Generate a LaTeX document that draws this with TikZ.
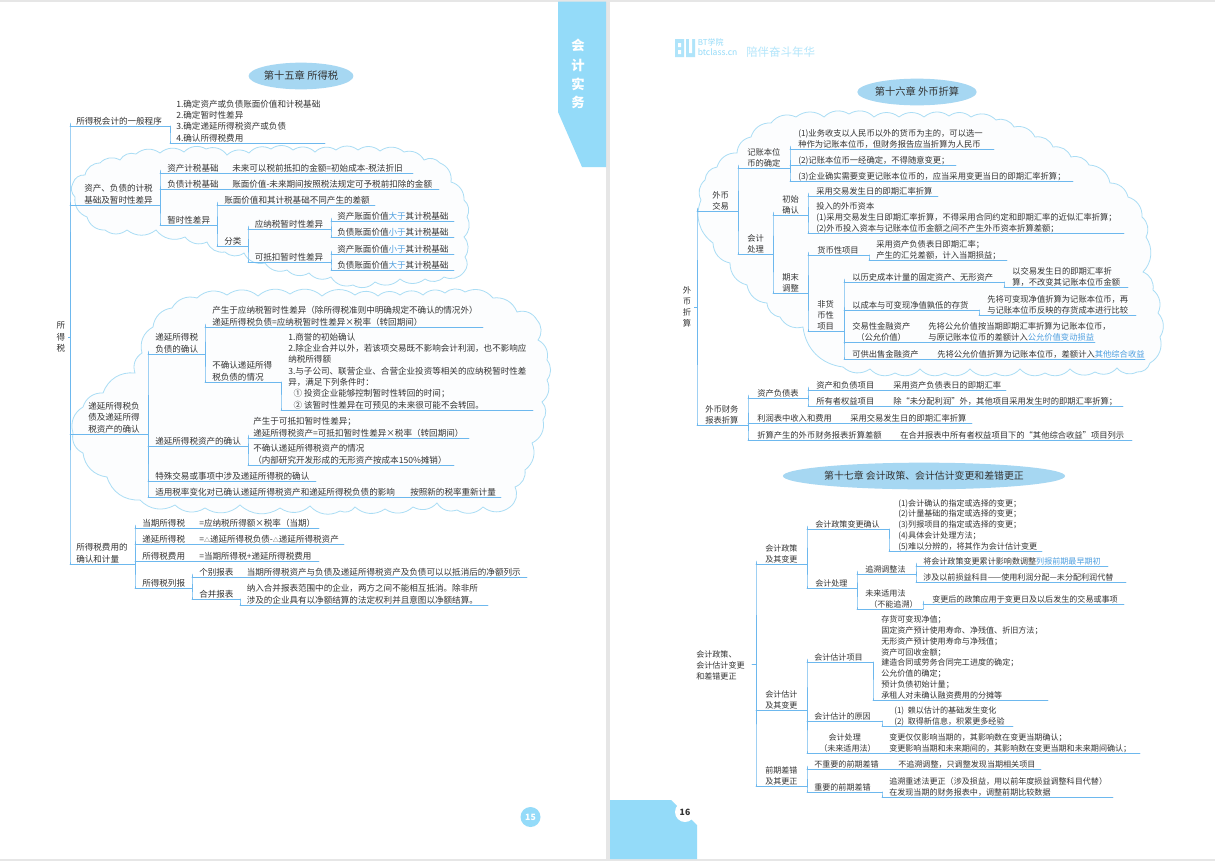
\documentclass[tikz,border=0pt]{standalone}
\usepackage{fontspec}
\setmainfont{Noto Sans CJK SC}
\definecolor{ink}{HTML}{333333}
\definecolor{branch}{HTML}{6DB8EE}
\definecolor{sky}{HTML}{94DBF9}
\definecolor{pill}{HTML}{A6D7F2}
\definecolor{puff}{HTML}{AADDF5}
\definecolor{puffbg}{HTML}{FCFDFE}
\definecolor{link}{HTML}{4E9FE0}
\definecolor{gutter}{HTML}{E6E6E6}
\newcommand{\bl}[1]{\textcolor{link}{#1}}
\newcommand{\delt}{{\fontsize{4.5}{4.5}\selectfont △}}
\tikzset{
  txt/.style={anchor=south west,inner sep=0pt,align=left,text=ink,text depth=1pt,font=\fontsize{6.42}{8.45}\selectfont},
  rule/.style={draw=branch,line width=0.65pt,line cap=round},
  wire/.style={draw=branch,line width=0.65pt,rounded corners=2.4pt,line cap=round},
  stub/.style={draw=branch,line width=0.65pt,shorten <=2pt},
  puffy/.style={draw=puff,fill=puffbg,line width=0.6pt,every to/.style={bend left=38}},
  pilltitle/.style={ellipse,fill=pill,inner sep=0pt,text=ink,font=\fontsize{7.7}{9}\selectfont},
  sidetxt/.style={inner sep=0pt,text=white,font=\fontsize{10}{12}\selectfont\bfseries},
  rootchar/.style={inner sep=0pt,align=center,text=ink,font=\fontsize{6.42}{8.45}\selectfont},
  logotxt/.style={inner sep=0pt,anchor=west,text=sky}
}
% name, line start x, line end x, line y, text x, text
\newcommand{\U}[6]{%
  \coordinate (#1-l) at (#2,#4);
  \coordinate (#1-r) at (#3,#4);
  \node[txt] (#1) at (#5,#4-0.4) {#6};
  \draw[rule] (#1-l) -- (#1-r);
}
\newcommand{\C}[2]{\draw[wire] (#1-r) -- (#1-r |- #2-l) -- (#2-l);}
\usetikzlibrary{shapes.geometric}
\begin{document}
\begin{tikzpicture}[x=0.75pt,y=-0.75pt]
\useasboundingbox (0,0) rectangle (1215,861);
\fill[gutter] (0,0) rectangle (1215,861);
\fill[white] (0,1.5) rectangle (606,859);
\fill[white] (610,1.5) rectangle (1215,859);
% sidebar
\fill[sky] (558,1.5) -- (606,1.5) -- (606,167) -- (582,167) -- (558,112) -- cycle;
\node[sidetxt] (s1) at (578,45) {会};
\node[sidetxt] (s2) at (578,65) {计};
\node[sidetxt] (s3) at (578,84) {实};
\node[sidetxt] (s4) at (578,102) {务};
% page numbers
\node[circle,fill=sky,minimum size=15pt,inner sep=0pt,text=white,font=\fontsize{6.5}{8}\selectfont\bfseries] (p15) at (530.5,817) {15};
\fill[sky] (610,800) -- (671,800) -- (697,825) -- (697,859) -- (610,859) -- cycle;
\node[circle,fill=white,minimum size=15pt,inner sep=0pt,text=ink,font=\fontsize{6.5}{8}\selectfont\bfseries] (p16) at (685,812) {16};
% logo
\fill[sky!75!white] (675,39) rectangle (684,57) (686,39) rectangle (695,57);
\fill[white] (678,43) rectangle (681,47) (678,50) rectangle (681,54) (689,39) rectangle (692,53);
\node[logotxt,font=\fontsize{6}{7}\selectfont] (lg1) at (697.5,42) {BT学院};
\node[logotxt,font=\fontsize{6.4}{7}\selectfont] (lg2) at (697.5,52) {btclass.cn};
\node[logotxt,font=\fontsize{8.6}{9}\selectfont,text=sky!70!white] (lg3) at (746,52) {陪伴奋斗年华};
% titles
\node[pilltitle,minimum width=73.5pt,minimum height=20pt] (t15) at (301,76) {第十五章 所得税};
\node[pilltitle,minimum width=79.5pt,minimum height=20pt] (t16) at (917,92) {第十六章 外币折算};
\node[pilltitle,minimum width=177pt,minimum height=20pt,font=\fontsize{7.4}{9}\selectfont] (t17) at (924,476) {第十七章 会计政策、会计估计变更和差错更正};
% clouds
\draw[puffy] (85,175) to (100,163) to (120,160) to (136,154) to (160,153) to (184,152) to (206,149) to (227,155) to (249,153) to (271,149) to (293,150) to (315,152) to (336,150) to (358,150) to (380,151) to (404,152) to (424,160) to (440,163) to (451,182) to (464,200) to (467,217) to (464,237) to (465,257) to (464,272) to (444,277) to (425,279) to (400,279) to (375,282) to (353,285) to (331,277) to (309,273) to (287,270) to (265,263) to (244,253) to (225,252) to (207,242) to (185,237) to (156,230) to (127,230) to (105,230) to (87,217) to (75,197) to (73,183) to cycle;
\draw[puffy] (73,433) to (83,407) to (103,393) to (135,373) to (142,353) to (153,327) to (172,308) to (197,298) to (227,295) to (258,296) to (290,294) to (322,296) to (355,295) to (378,296) to (400,295) to (423,295) to (445,293) to (465,292) to (493,298) to (517,312) to (537,320) to (538,340) to (547,360) to (547,380) to (542,402) to (543,420) to (532,443) to (525,470) to (515,487) to (510,507) to (483,507) to (457,510) to (437,503) to (413,507) to (385,509) to (355,507) to (340,511) to (310,506) to (280,508) to (240,505) to (205,508) to (175,505) to (140,500) to (107,477) to (83,453) to cycle;
\draw[puffy] (701,200) to (705,180) to (717,167) to (737,153) to (751,137) to (771,123) to (796,117) to (824,117) to (849,114) to (874,117) to (899,117) to (924,117) to (949,116) to (971,117) to (996,120) to (1014,127) to (1035,137) to (1053,147) to (1071,157) to (1089,165) to (1110,183) to (1128,197) to (1142,217) to (1146,237) to (1143,272) to (1153,290) to (1158,313) to (1160,337) to (1150,363) to (1137,372) to (1117,368) to (1095,372) to (1070,369) to (1045,373) to (1020,369) to (995,373) to (970,369) to (945,373) to (920,369) to (895,373) to (870,369) to (843,367) to (803,327) to (780,317) to (767,303) to (747,285) to (730,263) to (713,243) to cycle;
% ========== left page
\node[rootchar] (rootA) at (61,337) {所\\得\\税};
\coordinate (rootA-r) at (70,337);
\draw[stub] (rootA.east) -- (rootA-r);
\U{a}{70}{170}{126}{76}{所得税会计的一般程序}
\U{a1}{170}{325}{143}{176}{1.确定资产或负债账面价值和计税基础\\2.确定暂时性差异\\3.确定递延所得税资产或负债\\4.确认所得税费用}
\U{b}{70}{160}{205}{84}{资产、负债的计税\\基础及暂时性差异}
\U{b1}{160}{228}{173}{167}{资产计税基础}
\U{b1c}{228}{413}{173}{232}{未来可以税前抵扣的金额=初始成本-税法折旧}
\U{b2}{160}{228}{189}{167}{负债计税基础}
\U{b2c}{228}{439}{189}{232}{账面价值-未来期间按照税法规定可予税前扣除的金额}
\U{b3}{160}{217}{225}{167}{暂时性差异}
\U{b31}{217}{375}{205}{224}{账面价值和其计税基础不同产生的差额}
\U{b32}{217}{248}{246}{224}{分类}
\U{b321}{248}{331}{229}{254.5}{应纳税暂时性差异}
\U{b322}{248}{331}{262}{254.5}{可抵扣暂时性差异}
\U{b3211}{331}{454}{221}{337}{资产账面价值\bl{大于}其计税基础}
\U{b3212}{331}{454}{237}{337}{负债账面价值\bl{小于}其计税基础}
\U{b3221}{331}{454}{254}{337}{资产账面价值\bl{小于}其计税基础}
\U{b3222}{331}{454}{270}{337}{负债账面价值\bl{大于}其计税基础}
\U{c}{70}{148}{434}{88}{递延所得税负\\债及递延所得\\税资产的确认}
\U{c1}{148}{205}{354}{155}{递延所得税\\负债的确认}
\U{c11}{205}{483}{327}{212}{产生于应纳税暂时性差异（除所得税准则中明确规定不确认的情况外）\\递延所得税负债=应纳税暂时性差异×税率（转回期间）}
\U{c12}{205}{281}{382}{212}{不确认递延所得\\税负债的情况}
\U{c121}{281}{533}{410}{288}{1.商誉的初始确认\\2.除企业合并以外，若该项交易既不影响会计利润，也不影响应\\纳税所得额\\3.与子公司、联营企业、合营企业投资等相关的应纳税暂时性差\\异，满足下列条件时：\\\hspace*{4pt}① 投资企业能够控制暂时性转回的时间；\\\hspace*{4pt}② 该暂时性差异在可预见的未来很可能不会转回。}
\U{c2}{148}{248}{446}{155}{递延所得税资产的确认}
\U{c21}{248}{469}{438}{253}{产生于可抵扣暂时性差异；\\递延所得税资产=可抵扣暂时性差异×税率（转回期间）}
\U{c22}{248}{454}{465}{253}{不确认递延所得税资产的情况\\（内部研究开发形成的无形资产按成本150\%摊销）}
\U{c3}{148}{316}{481}{155}{特殊交易或事项中涉及递延所得税的确认}
\U{c4}{148}{403}{497}{155}{适用税率变化对已确认递延所得税资产和递延所得税负债的影响}
\U{c4c}{403}{501}{497}{410}{按照新的税率重新计量}
\U{d}{70}{135}{564}{76}{所得税费用的\\确认和计量}
\U{d1}{135}{195}{528}{142}{当期所得税}
\U{d1c}{195}{319}{528}{199}{=应纳税所得额×税率（当期）}
\U{d2}{135}{195}{544}{142}{递延所得税}
\U{d2c}{195}{344}{544}{199}{=\delt 递延所得税负债-\delt 递延所得税资产}
\U{d3}{135}{195}{561}{142}{所得税费用}
\U{d3c}{195}{319}{561}{199}{=当期所得税+递延所得税费用}
\U{d4}{135}{192}{588}{142}{所得税列报}
\U{d41}{192}{240}{577}{199}{个别报表}
\U{d41c}{240}{527}{577}{246.5}{当期所得税资产与负债及递延所得税资产及负债可以以抵消后的净额列示}
\U{d42}{192}{240}{599}{199}{合并报表}
\U{d42c}{240}{488}{605}{246.5}{纳入合并报表范围中的企业，两方之间不能相互抵消。除非所\\涉及的企业具有以净额结算的法定权利并且意图以净额结算。}
\C{rootA}{a}\C{rootA}{b}\C{rootA}{c}\C{rootA}{d}
\C{a}{a1}
\C{b}{b1}\C{b}{b2}\C{b}{b3}
\C{b3}{b31}\C{b3}{b32}
\C{b32}{b321}\C{b32}{b322}
\C{b321}{b3211}\C{b321}{b3212}
\C{b322}{b3221}\C{b322}{b3222}
\C{c}{c1}\C{c}{c2}\C{c}{c3}\C{c}{c4}
\C{c1}{c11}\C{c1}{c12}\C{c12}{c121}
\C{c2}{c21}\C{c2}{c22}
\C{d}{d1}\C{d}{d2}\C{d}{d3}\C{d}{d4}
\C{d4}{d41}\C{d4}{d42}\C{d42}{d42c}
% ========== right page: chapter 16
\tikzset{txt/.append style={font=\fontsize{6.22}{8.1}\selectfont},rootchar/.append style={font=\fontsize{6.22}{8.2}\selectfont}}
\node[rootchar] (rootB) at (687,307) {外\\币\\折\\算};
\coordinate (rootB-r) at (697,307);
\draw[stub] (rootB.east) -- (rootB-r);
\U{e}{697}{738}{211}{712}{外币\\交易}
\U{e1}{738}{790}{168}{747}{记账本位\\币的确定}
\U{e11}{790}{994}{149}{798}{(1)业务收支以人民币以外的货币为主的，可以选一\\种作为记账本位币，但财务报告应当折算为人民币}
\U{e12}{790}{956}{165}{798}{(2)记账本位币一经确定，不得随意变更；}
\U{e13}{790}{1073}{181}{798}{(3)企业确实需要变更记账本位币的，应当采用变更当日的即期汇率折算；}
\U{e2}{738}{773}{254}{747}{会计\\处理}
\U{e21}{773}{808}{215}{782}{初始\\确认}
\U{e211}{808}{938}{196}{816}{采用交易发生日的即期汇率折算}
\U{e212}{808}{1124}{233}{816}{投入的外币资本\\(1)采用交易发生日即期汇率折算，不得采用合同约定和即期汇率的近似汇率折算；\\(2)外币投入资本与记账本位币金额之间不产生外币资本折算差额；}
\U{e22}{773}{808}{293}{782}{期末\\调整}
\U{e221}{808}{869}{255}{817}{货币性项目}
\U{e221c}{869}{1007}{260}{876}{采用资产负债表日即期汇率；\\产生的汇兑差额，计入当期损益；}
\U{e222}{808}{844}{331}{817}{非货\\币性\\项目}
\U{e2221}{844}{1004}{282}{852}{以历史成本计量的固定资产、无形资产}
\U{e2221c}{1004}{1128}{287}{1012}{以交易发生日的即期汇率折\\算，不改变其记账本位币金额}
\U{e2222}{844}{979}{310}{852}{以成本与可变现净值孰低的存货}
\U{e2222c}{979}{1136}{315}{987}{先将可变现净值折算为记账本位币，再\\与记账本位币反映的存货成本进行比较}
\U{e2223}{844}{922}{342}{852}{交易性金融资产\\\hspace*{3pt}（公允价值）}
\U{e2223c}{922}{1095}{342}{928}{先将公允价值按当期即期汇率折算为记账本位币，\\与原记账本位币的差额计入\bl{公允价值变动损益}}
\U{e2224}{844}{931}{359}{852}{可供出售金融资产}
\U{e2224c}{931}{1145}{359}{937}{先将公允价值折算为记账本位币，差额计入\bl{其他综合收益}}
\U{f}{697}{748}{425}{705}{外币财务\\报表折算}
\U{f1}{748}{808}{398}{757}{资产负债表}
\U{f11}{808}{888}{390}{816}{资产和负债项目}
\U{f11c}{888}{1006}{390}{893}{采用资产负债表日的即期汇率}
\U{f12}{808}{888}{406}{816}{所有者权益项目}
\U{f12c}{888}{1123}{406}{893}{除“未分配利润”外，其他项目采用发生时的即期汇率折算；}
\U{f2}{748}{845}{423}{757}{利润表中收入和费用}
\U{f2c}{845}{972}{423}{850}{采用交易发生日的即期汇率折算}
\U{f3}{748}{895}{440}{757}{折算产生的外币财务报表折算差额}
\U{f3c}{895}{1132}{440}{900}{在合并报表中所有者权益项目下的“其他综合收益”项目列示}
\C{rootB}{e}\C{rootB}{f}
\C{e}{e1}\C{e}{e2}
\C{e1}{e11}\C{e1}{e12}\C{e1}{e13}
\C{e2}{e21}\C{e2}{e22}
\C{e21}{e211}\C{e21}{e212}
\C{e22}{e221}\C{e22}{e222}
\C{e221}{e221c}
\C{e222}{e2221}\C{e222}{e2222}\C{e222}{e2223}\C{e222}{e2224}
\C{e2221}{e2221c}\C{e2222}{e2222c}
\C{f}{f1}\C{f}{f2}\C{f}{f3}
\C{f1}{f11}\C{f1}{f12}
% ========== chapter 17
\tikzset{txt/.append style={font=\fontsize{6.05}{8.05}\selectfont}}
\node[anchor=west,inner sep=0pt,align=left,text=ink,font=\fontsize{6.05}{8.2}\selectfont] (rootC) at (696,665) {会计政策、\\会计估计变更\\和差错更正};
\coordinate (rootC-r) at (756,664);
\draw[rule] (rootC-r) ++(-4,0) -- (rootC-r);
\U{g1}{756}{807}{564}{765}{会计政策\\及其变更}
\U{g11}{807}{889}{529}{815}{会计政策变更确认}
\U{g111}{889}{1042}{551}{898}{(1)会计确认的指定或选择的变更；\\(2)计量基础的指定或选择的变更；\\(3)列报项目的指定或选择的变更；\\(4)具体会计处理方法；\\(5)难以分辨的，将其作为会计估计变更}
\U{g12}{807}{857}{588}{815}{会计处理}
\U{g121}{857}{916}{574}{865}{追溯调整法}
\U{g1211}{916}{1108}{566}{923}{将会计政策变更累计影响数调整\bl{列报前期最早期初}}
\U{g1212}{916}{1126}{582}{923}{涉及以前损益科目——使用利润分配—未分配利润代替}
\U{g122}{857}{923}{609}{865}{未来适用法\\\hspace*{3pt}（不能追溯）}
\U{g1221}{923}{1124}{604}{932}{变更后的政策应用于变更日及以后发生的交易或事项}
\U{g2}{756}{807}{710}{765}{会计估计\\及其变更}
\U{g21}{807}{873}{662}{814}{会计估计项目}
\U{g211}{873}{1048}{700}{881}{存货可变现净值；\\固定资产预计使用寿命、净残值、折旧方法；\\无形资产预计使用寿命与净残值；\\资产可回收金额；\\建造合同或劳务合同完工进度的确定；\\公允价值的确定；\\预计负债初始计量；\\承租人对未确认融资费用的分摊等}
\U{g22}{807}{882}{721}{814}{会计估计的原因}
\U{g221}{882}{1013}{726}{894}{(1)\ \ 赖以估计的基础发生变化\\(2)\ \ 取得新信息，积累更多经验}
\U{g23}{807}{884}{753}{819}{\hspace*{7pt}会计处理\\（未来适用法）}
\U{g23c}{884}{1140}{753}{889}{变更仅仅影响当期的，其影响数在变更当期确认；\\变更影响当期和未来期间的，其影响数在变更当期和未来期间确认；}
\U{g3}{756}{807}{786}{765}{前期差错\\及其更正}
\U{g31}{807}{892}{769}{814}{不重要的前期差错}
\U{g31c}{892}{1041}{769}{898}{不追溯调整，只调整发现当期相关项目}
\U{g32}{807}{882}{792}{814}{重要的前期差错}
\U{g32c}{882}{1113}{797}{889}{追溯重述法更正（涉及损益，用以前年度损益调整科目代替）\\在发现当期的财务报表中，调整前期比较数据}
\C{rootC}{g1}\C{rootC}{g2}\C{rootC}{g3}
\C{g1}{g11}\C{g1}{g12}
\C{g11}{g111}
\C{g12}{g121}\C{g12}{g122}
\C{g121}{g1211}\C{g121}{g1212}
\C{g122}{g1221}
\C{g2}{g21}\C{g2}{g22}\C{g2}{g23}
\C{g21}{g211}\C{g22}{g221}
\C{g3}{g31}\C{g3}{g32}\C{g32}{g32c}
\end{tikzpicture}
\end{document}
